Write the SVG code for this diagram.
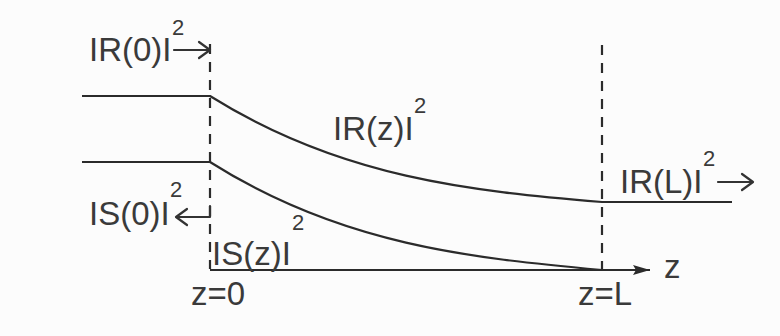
<svg xmlns="http://www.w3.org/2000/svg" width="780" height="336" viewBox="0 0 780 336">
<defs>
<style>
.t{font-family:"Liberation Sans",Arial,sans-serif;font-size:33px;fill:#3a3a3a}
.s{font-family:"Liberation Sans",Arial,sans-serif;font-size:22px;fill:#3a3a3a}
.ln{fill:none;stroke:#2b2b2b;stroke-width:2.2}
.ds{fill:none;stroke:#2b2b2b;stroke-width:2.2;stroke-dasharray:10 8}
.ar{fill:none;stroke:#333;stroke-width:2.2;stroke-linecap:round;stroke-linejoin:round}
</style>
<marker id="fill" markerWidth="18" markerHeight="12" refX="17" refY="6" orient="auto" markerUnits="userSpaceOnUse">
<path d="M0,1 L17,6 L0,11 L3,6 Z" fill="#2b2b2b"/>
</marker>
</defs>
<rect width="780" height="336" fill="#fcfcfc"/>
<g id="connectors">
<path id="dash0" class="ds" d="M210,44 V269"/>
<path id="dashL" class="ds" d="M602,45 V269"/>
<path id="axis" class="ln" d="M210,270 H650" marker-end="url(#fill)"/>
<path id="R" class="ln" d="M82,96 H210 C341,178 471,191 602,202 H732"/>
<path id="S" class="ln" d="M82,162 H210 C341,245 471,258 602,270"/>
<path id="arrR0" class="ar" d="M174,50 H210 M199,42 L210,50 L199,58"/>
<path id="arrS0" class="ar" d="M210,206 V217 H176 M187,209 L176,217 L187,225"/>
<path id="arrRL" class="ar" d="M718,182 H753 M742,174 L753,182 L742,190"/>
</g>
<g id="label-R0"><text class="t" x="89" y="61">IR(0)I</text><text class="s" x="172" y="35">2</text></g>
<g id="label-Rz"><text class="t" x="333" y="140">IR(z)I</text><text class="s" x="414" y="113">2</text></g>
<g id="label-RL"><text class="t" x="620" y="193">IR(L)I</text><text class="s" x="703" y="166">2</text></g>
<g id="label-S0"><text class="t" x="89" y="225">IS(0)I</text><text class="s" x="170" y="197">2</text></g>
<g id="label-Sz"><text class="t" x="212" y="265">IS(z)I</text><text class="s" x="292" y="230">2</text></g>
<g id="label-z0"><text class="t" x="191" y="305">z=0</text></g>
<g id="label-zL"><text class="t" x="578" y="305">z=L</text></g>
<g id="label-z"><text class="t" x="664" y="278">z</text></g>
</svg>
